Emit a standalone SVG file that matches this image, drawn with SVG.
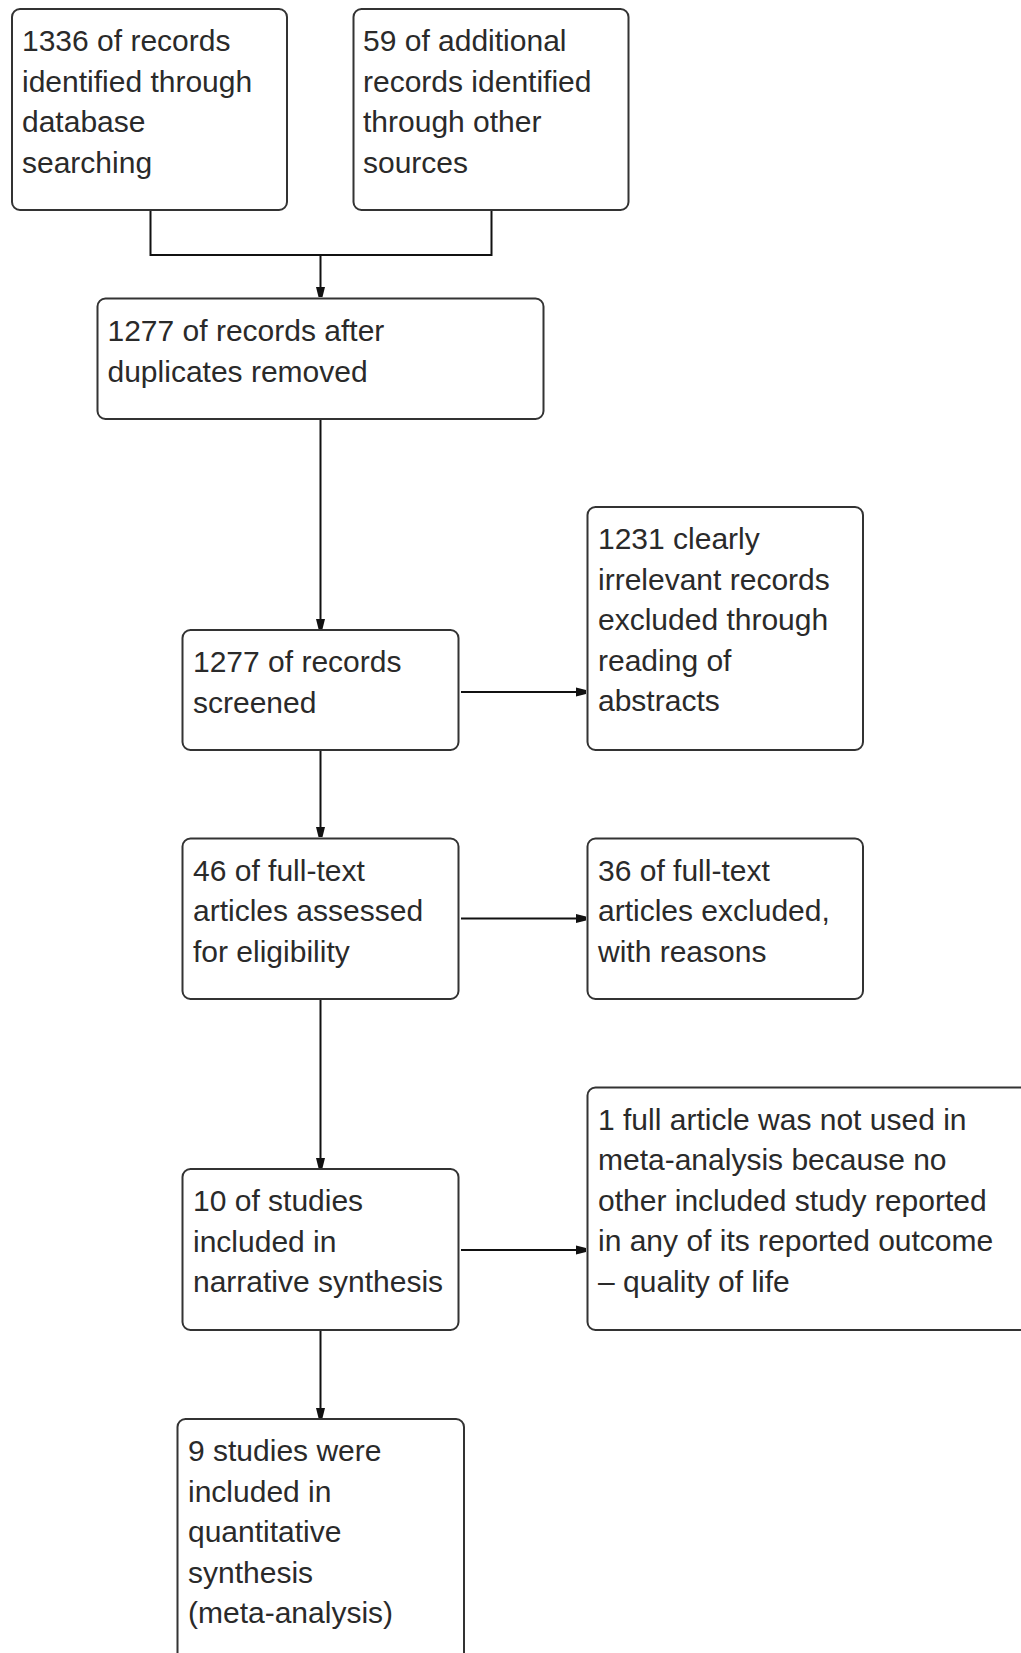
<svg xmlns="http://www.w3.org/2000/svg" width="1021" height="1653" viewBox="0 0 1021 1653">
<style>
.box{fill:#fff;stroke:#333;stroke-width:2}
.t{font-family:"Liberation Sans",Arial,sans-serif;font-size:30px;fill:#2a2a2a}
.c{fill:none;stroke:#111;stroke-width:2}
</style>
<defs>
<marker id="ah" markerWidth="12" markerHeight="12" refX="10" refY="6" orient="auto" markerUnits="userSpaceOnUse">
<path d="M0,1.5 L10,4 L10,8 L0,10.5 Z" fill="#111"/>
</marker>
</defs>
<rect width="1021" height="1653" fill="#fff"/>
<g id="connectors">
<path class="c" d="M150.5,210 V255 H491.5 V210"/>
<path class="c" d="M320.5,255 V297" marker-end="url(#ah)"/>
<path class="c" d="M320.5,419 V629" marker-end="url(#ah)"/>
<path class="c" d="M320.5,750 V837" marker-end="url(#ah)"/>
<path class="c" d="M320.5,999 V1168" marker-end="url(#ah)"/>
<path class="c" d="M320.5,1330 V1418" marker-end="url(#ah)"/>
<path class="c" d="M461,692 H586" marker-end="url(#ah)"/>
<path class="c" d="M461,918.5 H586" marker-end="url(#ah)"/>
<path class="c" d="M461,1250 H586" marker-end="url(#ah)"/>
</g>
<g id="n1"><rect class="box" x="12" y="9" width="275" height="201" rx="8"/>
<text class="t" x="22" y="51"><tspan x="22">1336 of records</tspan><tspan x="22" dy="40.6">identified through</tspan><tspan x="22" dy="40.6">database</tspan><tspan x="22" dy="40.6">searching</tspan></text></g>
<g id="n2"><rect class="box" x="353.5" y="9" width="275" height="201" rx="8"/>
<text class="t" x="363" y="51"><tspan x="363">59 of additional</tspan><tspan x="363" dy="40.6">records identified</tspan><tspan x="363" dy="40.6">through other</tspan><tspan x="363" dy="40.6">sources</tspan></text></g>
<g id="n3"><rect class="box" x="97.5" y="298.5" width="446" height="120.5" rx="8"/>
<text class="t" x="107.5" y="341"><tspan x="107.5">1277 of records after</tspan><tspan x="107.5" dy="40.6">duplicates removed</tspan></text></g>
<g id="n4"><rect class="box" x="182.5" y="630" width="276" height="120" rx="8"/>
<text class="t" x="193" y="672"><tspan x="193">1277 of records</tspan><tspan x="193" dy="40.6">screened</tspan></text></g>
<g id="n5"><rect class="box" x="587.5" y="507" width="275.5" height="243" rx="8"/>
<text class="t" x="598" y="549"><tspan x="598">1231 clearly</tspan><tspan x="598" dy="40.6">irrelevant records</tspan><tspan x="598" dy="40.6">excluded through</tspan><tspan x="598" dy="40.6">reading of</tspan><tspan x="598" dy="40.6">abstracts</tspan></text></g>
<g id="n6"><rect class="box" x="182.5" y="838.5" width="276" height="160.5" rx="8"/>
<text class="t" x="193" y="880.5"><tspan x="193">46 of full-text</tspan><tspan x="193" dy="40.6">articles assessed</tspan><tspan x="193" dy="40.6">for eligibility</tspan></text></g>
<g id="n7"><rect class="box" x="587.5" y="838.5" width="275.5" height="160.5" rx="8"/>
<text class="t" x="598" y="880.5"><tspan x="598">36 of full-text</tspan><tspan x="598" dy="40.6">articles excluded,</tspan><tspan x="598" dy="40.6">with reasons</tspan></text></g>
<g id="n8"><rect class="box" x="182.5" y="1169" width="276" height="161" rx="8"/>
<text class="t" x="193" y="1211"><tspan x="193">10 of studies</tspan><tspan x="193" dy="40.6">included in</tspan><tspan x="193" dy="40.6">narrative synthesis</tspan></text></g>
<g id="n9"><rect class="box" x="587.5" y="1087.5" width="450" height="242.5" rx="8"/>
<text class="t" x="598" y="1129.5"><tspan x="598">1 full article was not used in</tspan><tspan x="598" dy="40.6">meta-analysis because no</tspan><tspan x="598" dy="40.6">other included study reported</tspan><tspan x="598" dy="40.6">in any of its reported outcome</tspan><tspan x="598" dy="40.6">– quality of life</tspan></text></g>
<g id="n10"><rect class="box" x="177.5" y="1419" width="286.5" height="260" rx="8"/>
<text class="t" x="188" y="1461"><tspan x="188">9 studies were</tspan><tspan x="188" dy="40.6">included in</tspan><tspan x="188" dy="40.6">quantitative</tspan><tspan x="188" dy="40.6">synthesis</tspan><tspan x="188" dy="40.6">(meta-analysis)</tspan></text></g>
</svg>
